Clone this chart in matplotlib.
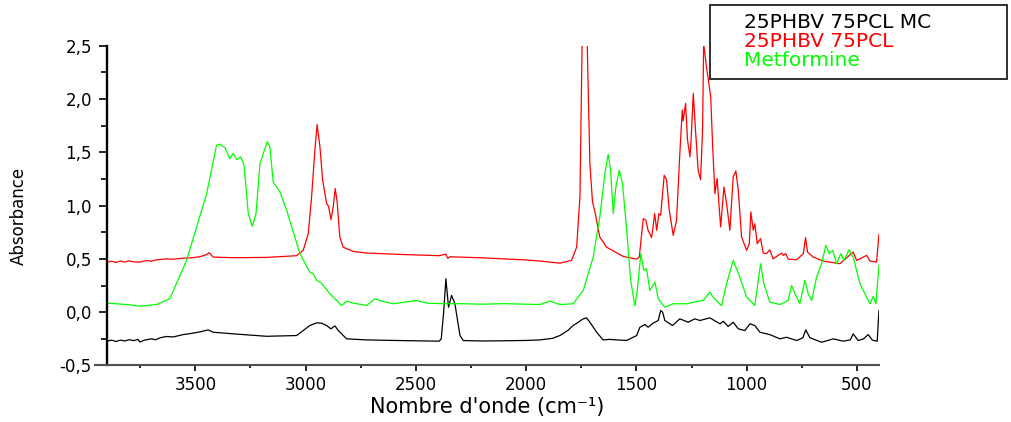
import matplotlib.pyplot as plt
from matplotlib.ticker import MultipleLocator

plt.rcParams['font.family'] = ['DejaVu Sans']

# 25PHBV 75PCL MC (black)
wn_mc = [3900, 3880, 3860, 3840, 3820, 3800, 3780, 3760, 3752, 3730,
         3700, 3680, 3660, 3631, 3600, 3555, 3520, 3480, 3442, 3419,
         3329, 3177, 3041, 3011, 2981, 2950, 2928, 2905, 2885, 2867,
         2852, 2814, 2724, 2573, 2394, 2385, 2374, 2364, 2352, 2338,
         2323, 2300, 2285, 2200, 2100, 2000, 1938, 1880, 1847, 1810,
         1787, 1760, 1749, 1740, 1726, 1711, 1680, 1651, 1620, 1590,
         1544, 1499, 1484, 1461, 1447, 1424, 1401, 1390, 1381, 1371,
         1336, 1303, 1265, 1235, 1212, 1167, 1121, 1106, 1084, 1061,
         1038, 1008, 985, 963, 940, 895, 849, 819, 773, 745,
         732, 713, 660, 607, 562, 530, 517, 494, 470, 449,
         430, 408, 400]
abs_mc = [-0.272, -0.262, -0.275, -0.262, -0.270, -0.258, -0.267, -0.255, -0.280, -0.262,
          -0.250, -0.258, -0.240, -0.228, -0.232, -0.210, -0.200, -0.185, -0.166, -0.188,
          -0.203, -0.226, -0.219, -0.172, -0.125, -0.100, -0.103, -0.125, -0.156, -0.128,
          -0.172, -0.250, -0.260, -0.266, -0.272, -0.250, 0.000, 0.314, 0.047, 0.157,
          0.079, -0.219, -0.266, -0.270, -0.268, -0.265, -0.260, -0.245, -0.219, -0.170,
          -0.125, -0.090, -0.072, -0.062, -0.053, -0.094, -0.188, -0.260, -0.255, -0.260,
          -0.265, -0.219, -0.141, -0.116, -0.141, -0.103, -0.078, 0.016, 0.000, -0.078,
          -0.125, -0.062, -0.094, -0.062, -0.078, -0.053, -0.109, -0.085, -0.134, -0.094,
          -0.156, -0.172, -0.109, -0.125, -0.188, -0.210, -0.250, -0.235, -0.266, -0.240,
          -0.166, -0.240, -0.282, -0.250, -0.272, -0.260, -0.203, -0.266, -0.250, -0.210,
          -0.262, -0.272, 0.016]

# 25PHBV 75PCL (red)
wn_pcl = [3900, 3880, 3860, 3840, 3820, 3800, 3780, 3752, 3720, 3700,
          3680, 3631, 3600, 3555, 3520, 3480, 3450, 3437, 3420, 3329,
          3177, 3041, 3011, 2988, 2973, 2958, 2948, 2935, 2923, 2905,
          2896, 2885, 2875, 2866, 2857, 2845, 2830, 2784, 2724, 2573,
          2394, 2365, 2355, 2346, 2200, 2100, 2000, 1938, 1847, 1794,
          1771, 1756, 1745, 1735, 1725, 1711, 1699, 1688, 1666, 1635,
          1560, 1499, 1487, 1469, 1457, 1447, 1431, 1417, 1408, 1398,
          1390, 1374, 1363, 1351, 1333, 1318, 1303, 1292, 1288, 1277,
          1268, 1257, 1252, 1242, 1232, 1220, 1209, 1200, 1195, 1182,
          1163, 1154, 1144, 1134, 1118, 1103, 1091, 1076, 1061, 1049,
          1038, 1023, 1000, 988, 981, 970, 963, 952, 937, 925,
          910, 895, 880, 841, 834, 823, 812, 773, 743, 733,
          724, 698, 653, 577, 517, 501, 456, 441, 411, 400]
abs_pcl = [0.470, 0.478, 0.466, 0.480, 0.470, 0.482, 0.472, 0.470, 0.485, 0.478,
           0.490, 0.500, 0.497, 0.507, 0.510, 0.520, 0.540, 0.558, 0.517, 0.511,
           0.514, 0.530, 0.580, 0.737, 1.080, 1.520, 1.760, 1.550, 1.240, 1.020,
           0.993, 0.868, 0.987, 1.160, 1.034, 0.705, 0.610, 0.570, 0.555, 0.542,
           0.530, 0.545, 0.505, 0.520, 0.510, 0.500, 0.490, 0.480, 0.460, 0.486,
           0.610, 1.080, 2.700, 3.300, 2.700, 1.395, 1.034, 0.940, 0.705, 0.610,
           0.523, 0.498, 0.517, 0.878, 0.862, 0.768, 0.700, 0.925, 0.768, 0.925,
           0.909, 1.285, 1.238, 0.956, 0.721, 0.862, 1.490, 1.896, 1.795, 1.959,
           1.614, 1.457, 1.614, 2.053, 1.708, 1.332, 1.244, 1.708, 2.520, 2.300,
           2.020, 1.550, 1.113, 1.254, 0.800, 1.175, 1.020, 0.768, 1.270, 1.325,
           1.144, 0.705, 0.580, 0.643, 0.940, 0.768, 0.830, 0.643, 0.690, 0.555,
           0.549, 0.586, 0.500, 0.555, 0.533, 0.549, 0.498, 0.492, 0.549, 0.700,
           0.564, 0.517, 0.480, 0.455, 0.564, 0.486, 0.533, 0.480, 0.470, 0.730]

# Metformine (green)
wn_met = [3900, 3800, 3752, 3676, 3616, 3540, 3449, 3404, 3389, 3366,
          3344, 3328, 3313, 3295, 3280, 3260, 3242, 3225, 3207, 3174,
          3162, 3147, 3117, 3086, 3026, 2981, 2966, 2950, 2932, 2890,
          2837, 2814, 2784, 2723, 2686, 2648, 2603, 2496, 2451, 2361,
          2300, 2200, 2100, 2000, 1938, 1892, 1847, 1787, 1741, 1696,
          1666, 1643, 1628, 1617, 1605, 1593, 1578, 1563, 1544, 1526,
          1507, 1496, 1480, 1466, 1454, 1439, 1416, 1401, 1371, 1333,
          1272, 1242, 1197, 1167, 1152, 1114, 1091, 1061, 1031, 1000,
          963, 937, 922, 895, 849, 812, 796, 781, 759, 736,
          721, 705, 683, 660, 641, 625, 610, 592, 573, 558,
          536, 517, 486, 441, 426, 414, 400]
abs_met = [0.085, 0.070, 0.056, 0.072, 0.126, 0.486, 1.110, 1.567, 1.576, 1.545,
           1.440, 1.490, 1.430, 1.457, 1.390, 0.925, 0.805, 0.925, 1.395, 1.600,
           1.550, 1.220, 1.130, 0.956, 0.550, 0.376, 0.360, 0.300, 0.280, 0.173,
           0.063, 0.104, 0.085, 0.063, 0.126, 0.100, 0.079, 0.110, 0.085, 0.079,
           0.080, 0.075, 0.080, 0.075, 0.072, 0.104, 0.072, 0.079, 0.204, 0.517,
           0.893, 1.300, 1.482, 1.332, 0.925, 1.175, 1.332, 1.207, 0.768, 0.298,
           0.060, 0.204, 0.549, 0.392, 0.408, 0.204, 0.282, 0.126, 0.047, 0.079,
           0.079, 0.094, 0.110, 0.188, 0.141, 0.060, 0.267, 0.486, 0.329, 0.141,
           0.063, 0.455, 0.267, 0.094, 0.072, 0.110, 0.251, 0.173, 0.079, 0.298,
           0.173, 0.110, 0.329, 0.455, 0.627, 0.549, 0.580, 0.455, 0.549, 0.486,
           0.586, 0.517, 0.267, 0.079, 0.148, 0.079, 0.440]

labels = ['25PHBV 75PCL MC', '25PHBV 75PCL', 'Metformine']
colors = ['#000000', '#ff0000', '#00ff00']

xticks = [3500, 3000, 2500, 2000, 1500, 1000, 500]
yticks = [-0.5, 0.0, 0.5, 1.0, 1.5, 2.0, 2.5]
ytick_labels = ['-0,5', '0,0', '0,5', '1,0', '1,5', '2,0', '2,5']

fig = plt.figure(figsize=(10.11, 4.22), dpi=100)
ax = fig.add_axes([0.094, 0.1339, 0.8694 - 0.094, 0.8917 - 0.1339])

ax.plot(wn_mc, abs_mc, color=colors[0], lw=0.9, label=labels[0])
ax.plot(wn_pcl, abs_pcl, color=colors[1], lw=0.9, label=labels[1])
ax.plot(wn_met, abs_met, color=colors[2], lw=0.9, label=labels[2])

ax.set_xlim(3955, 400)
ax.set_ylim(-0.5, 2.5)

ax.spines['top'].set_visible(False)
ax.spines['right'].set_visible(False)
ax.spines['left'].set_position(('data', 3900))
ax.spines['left'].set_linewidth(1.7)
ax.spines['bottom'].set_linewidth(1.5)
ax.spines['bottom'].set_color('#505050')

ax.set_xticks(xticks)
ax.set_xticklabels([str(v) for v in xticks])
ax.set_yticks(yticks)
ax.set_yticklabels(ytick_labels)
ax.xaxis.set_minor_locator(MultipleLocator(250))
ax.yaxis.set_minor_locator(MultipleLocator(0.25))

ax.tick_params(axis='x', which='major', direction='out', length=4.5, width=1.2, pad=3, labelsize=12)
ax.tick_params(axis='x', which='minor', direction='out', length=2.5, width=1.2)
ax.tick_params(axis='y', which='major', direction='out', length=6, width=1.2, pad=5, labelsize=12)
ax.tick_params(axis='y', which='minor', direction='out', length=4, width=1.2)

ax.set_xlabel('Nombre d\'onde (cm⁻¹)', fontsize=15, va='center')
ax.xaxis.set_label_coords(0.5, -0.13)
ax.set_ylabel('Absorbance', fontsize=12, va='center')
ax.yaxis.set_label_coords((19 - 95) / 784, 0.467)

leg = ax.legend(loc='upper left', bbox_to_anchor=(0.7023, 0.8175, 0.2938, 0.1706),
                bbox_transform=fig.transFigure, mode='expand', borderaxespad=0,
                fontsize=14.5, labelcolor='linecolor', handlelength=0, handletextpad=1.25,
                labelspacing=0.0, borderpad=0.42, fancybox=False, shadow=False,
                edgecolor='#202020', framealpha=1)
leg.get_frame().set_linewidth(1.3)
for h in leg.legend_handles:
    h.set_visible(False)

plt.savefig('out.png', dpi=100)
